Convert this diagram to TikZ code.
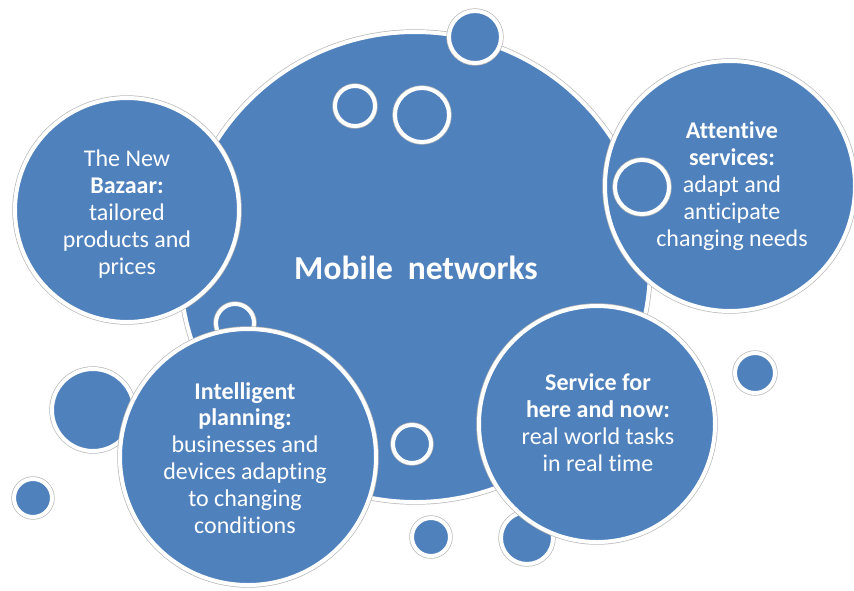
\documentclass[tikz,border=0pt]{standalone}
\usepackage{fontspec}
\setmainfont{Carlito}[Ligatures={NoCommon}]
\definecolor{bubblue}{HTML}{4F81BD}
\begin{document}
\begin{tikzpicture}[x=1pt,y=-1pt,
  bubble/.style={circle, inner sep=0pt, fill=bubblue, draw=white, line width=4pt,
    minimum size=2*#1-4pt,
    preaction={draw=black!28, line width=5.4pt}},
  label/.style={text=white, align=center, font=\fontsize{24}{26.9}\selectfont},
  title/.style={text=white, font=\fontsize{33.5}{36}\selectfont\bfseries}]
\useasboundingbox (0,0) rectangle (854,590);

% central bubble and the rings drawn on it
\node[bubble=237pt] (main) at (415,267) {};
\node[bubble=22pt] (ringA) at (355,106) {};
\node[bubble=29pt] (ringB) at (422,115) {};
\node[bubble=21pt] (ringC) at (412,444) {};
\node[bubble=21pt] (ringD) at (235,323) {};
\node[bubble=28pt] (topdot) at (475,37) {};

% small satellites partly hidden by the big bubbles
\node[bubble=43pt] (leftmid) at (93,410) {};
\node[bubble=21pt] (leftdot) at (33,498) {};
\node[bubble=21pt] (botdot) at (431,537) {};
\node[bubble=28pt] (botmid) at (527,538) {};
\node[bubble=22pt] (rightdot) at (755,373) {};

% the four topic bubbles
\node[bubble=114pt] (bazaar) at (127,210) {};
\node[bubble=127pt] (attentive) at (730,186) {};
\node[bubble=29pt] (ringE) at (642,187) {};
\node[bubble=130pt] (planning) at (248,457) {};
\node[bubble=120pt] (service) at (597,424) {};

% texts
\node[title] (mobtxt) at (416,268) {Mobile\hspace{0.22em} networks};
\node[label] (baztxt) at (127,214) {The New\\\textbf{Bazaar:}\\tailored\\products and\\prices};
\node[label] (atttxt) at (732,186) {\textbf{Attentive}\\\textbf{services:}\\adapt and\\anticipate\\changing needs};
\node[label] (plantxt) at (245,458) {\textbf{Intelligent}\\\textbf{planning:}\\businesses and\\devices adapting\\to changing\\conditions};
\node[label] (servtxt) at (598,423) {\textbf{Service for}\\\textbf{here and now:}\\real world tasks\\in real time};
\end{tikzpicture}
\end{document}
